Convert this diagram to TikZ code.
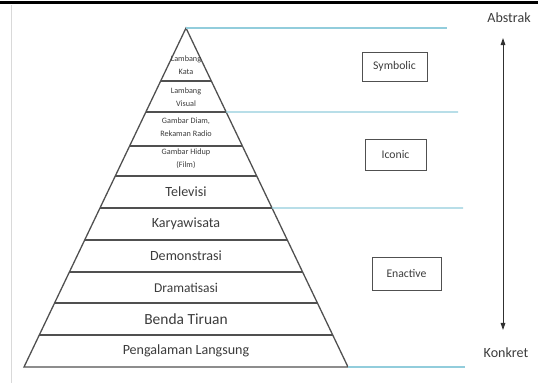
\documentclass[tikz,border=0pt]{standalone}
\usepackage{fontspec}
\setmainfont{Carlito}
\usetikzlibrary{positioning, arrows.meta, calc}

\definecolor{linegray}{RGB}{80,80,80}
\definecolor{textgray}{RGB}{60,60,60}
\definecolor{levelcyan}{RGB}{146,205,220}

\begin{document}
\begin{tikzpicture}[
    x=0.03cm, y=-0.03cm,
    >={Triangle[length=6pt, width=4pt]},
    levelline/.style={draw=linegray, line width=1.1pt},
    bandline/.style={draw=levelcyan, line width=1.1pt},
    medialabel/.style={text=textgray, font=\fontsize{12}{14}\selectfont, inner sep=0pt},
    smalllabel/.style={text=textgray, align=center, font=\fontsize{7}{11}\selectfont, inner sep=0pt},
    modebox/.style={rectangle, draw=linegray, line width=0.8pt, text=textgray, font=\fontsize{10}{12}\selectfont},
    endlabel/.style={text=textgray, font=\fontsize{12}{14}\selectfont}
]
\useasboundingbox (0,0) rectangle (538,383);

% Frame
\draw[line width=2pt, black] (0,2.5) -- (538,2.5);
\draw[gray!30, line width=0.8pt] (11.5,5) -- (11.5,383);

% Pyramid
\coordinate (top) at (186,28);
\coordinate (bl) at (24,367);
\coordinate (br) at (348,367);
\draw[levelline, line join=miter] (top) -- (bl) -- (br) -- cycle;
\foreach \y in {81,112,146,176,208,240,272,303,335} {
  \pgfmathsetmacro{\t}{(\y-28)/339}
  \coordinate (l\y) at ($(top)!\t!(bl)$);
  \coordinate (r\y) at ($(top)!\t!(br)$);
  \draw[levelline] (l\y) -- (r\y);
}

% Band lines
\coordinate (band1) at (447,28);
\coordinate (band2) at (458,112);
\coordinate (band3) at (463,208);
\coordinate (band4) at (465,367);
\draw[bandline] (top) -- (band1);
\draw[bandline] (r112) -- (band2);
\draw[bandline] (r208) -- (band3);
\draw[bandline] (br) -- (band4);

% Pyramid labels
\node[smalllabel] (kata) at (186,65) {Lambang\\Kata};
\node[smalllabel] (visual) at (186,97) {Lambang\\Visual};
\node[smalllabel] (diam) at (186,127) {Gambar Diam,\\Rekaman Radio};
\node[smalllabel] (hidup) at (186,159) {Gambar Hidup\\(Film)};
\node[medialabel] (tv) at (186,192) {Televisi};
\node[medialabel] (karya) at (186,224) {Karyawisata};
\node[medialabel] (demo) at (186,256) {Demonstrasi};
\node[medialabel, font=\fontsize{11.5}{14}\selectfont] (drama) at (186,287.5) {Dramatisasi};
\node[medialabel, font=\fontsize{13.2}{15}\selectfont] (benda) at (186,319) {Benda Tiruan};
\node[medialabel] (langsung) at (186,351) {Pengalaman Langsung};

% Mode boxes
\node[modebox, minimum width=1.95cm, minimum height=0.87cm] (symbolic) at (394.5,66.5) {Symbolic};
\node[modebox, minimum width=1.83cm, minimum height=0.93cm] (iconic) at (395.5,154.5) {Iconic};
\node[modebox, minimum width=2.07cm, minimum height=0.99cm] (enactive) at (406.5,273.5) {Enactive};

% Scale
\node[endlabel] (abstrak) at (509,18) {Abstrak};
\node[endlabel] (konkret) at (506,353) {Konkret};
\coordinate (arrtop) at (503,38);
\coordinate (arrbot) at (503,330);
\draw[<->, linegray!60!black, line width=0.8pt] (arrtop) -- (arrbot);

\end{tikzpicture}
\end{document}
